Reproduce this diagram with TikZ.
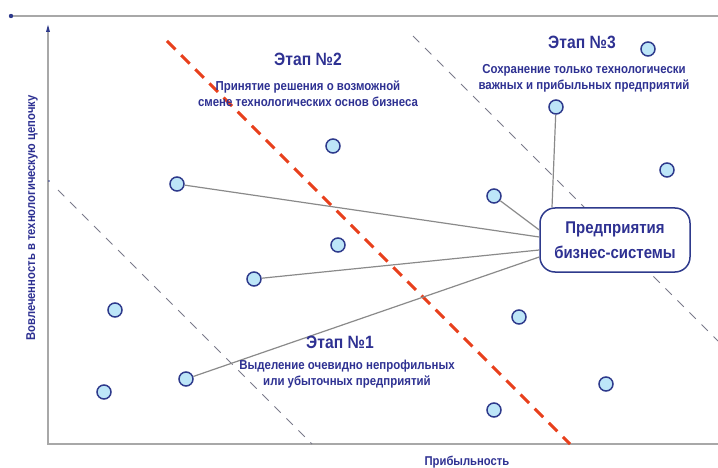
\documentclass[tikz,border=0pt]{standalone}
\usepackage{fontspec}
\setmainfont{Liberation Sans}
\newfontfamily\condf{Liberation Sans}[FakeStretch=0.88]
\usetikzlibrary{calc}
\definecolor{txtblue}{HTML}{2E3192}
\definecolor{cfill}{HTML}{BDE6F8}
\definecolor{cdraw}{HTML}{2E3A8C}
\definecolor{redd}{HTML}{E8401C}
\definecolor{axgray}{HTML}{A8A8A8}
\definecolor{lgray}{HTML}{8A8A8A}
\definecolor{dgray}{HTML}{7A7A8A}
\begin{document}
\begin{tikzpicture}[x=1pt,y=-1pt,
  firm/.style={circle,draw=cdraw,fill=cfill,line width=1.5pt,minimum size=14pt,inner sep=0pt},
  link/.style={draw=lgray,line width=1.2pt},
  divider/.style={draw=dgray,line width=1pt,dash pattern=on 9pt off 8pt},
  reddiv/.style={draw=redd,line width=3pt,dash pattern=on 12pt off 8pt},
  axis/.style={draw=axgray,line width=2pt},
  stagetitle/.style={text=txtblue,font=\condf\bfseries\fontsize{17.8}{20}\selectfont,inner sep=0pt},
  stagesub/.style={text=txtblue,font=\condf\bfseries\fontsize{13}{16}\selectfont,align=center,inner sep=0pt},
  axlabel/.style={text=txtblue,font=\condf\bfseries\fontsize{12.8}{14}\selectfont,inner sep=0pt},
  hub/.style={draw=cdraw,fill=white,line width=1.5pt,rounded corners=15pt,minimum width=150pt,minimum height=64pt,align=center,text=txtblue,font=\condf\bfseries\fontsize{17}{25}\selectfont}
]
\useasboundingbox (0,0) rectangle (718,468);

% top line
\coordinate (tl) at (11,16);
\coordinate (tr) at (718,16);
\draw[draw=axgray,line width=1.5pt] (tl) -- (tr);
\fill[cdraw] (tl) circle (2.2pt);

% axes
\coordinate (o) at (48,444);
\coordinate (ytop) at (48,27);
\coordinate (xend) at (718,444);
\draw[axis] (ytop) -- (o) -- (xend);
\fill[cdraw] (46,32) -- (48,25) -- (50,32) -- cycle;
\fill[cdraw] (49,181) circle (0.8pt);

% dividers
\coordinate (d1a) at (58,190);
\coordinate (d1b) at (312,444);
\draw[divider] (d1a) -- (d1b);
\coordinate (d2a) at (413,36);
\coordinate (d2b) at (718,341);
\draw[divider] (d2a) -- (d2b);
\coordinate (ra) at (167,41);
\coordinate (rb) at (570,444);
\draw[reddiv] (ra) -- (rb);

% hub
\node[hub] (box) at (615,240) {Предприятия\\бизнес-системы};

% firms
\node[firm] (f1) at (177,184) {};
\node[firm] (f2) at (333,146) {};
\node[firm] (f3) at (648,49) {};
\node[firm] (f4) at (556,107) {};
\node[firm] (f5) at (494,196) {};
\node[firm] (f6) at (667,170) {};
\node[firm] (f7) at (338,245) {};
\node[firm] (f8) at (254,279) {};
\node[firm] (f9) at (115,310) {};
\node[firm] (f10) at (104,392) {};
\node[firm] (f11) at (186,379) {};
\node[firm] (f12) at (519,317) {};
\node[firm] (f13) at (606,384) {};
\node[firm] (f14) at (494,410) {};

% links
\draw[link] (f1) -- ([yshift=3pt]box.west);
\draw[link] (f8) -- ([yshift=-10pt]box.west);
\draw[link] (f11) -- ([yshift=-17pt]box.west);
\draw[link] (f5) -- ([yshift=10pt]box.west);
\draw[link] (f4) -- ([xshift=-63pt]box.north);

% stage labels
\node[stagetitle] (s2) at (308,59) {Этап №2};
\node[stagesub] (s2t) at (308,94) {Принятие решения о возможной\\смене технологических основ бизнеса};
\node[stagetitle] (s3) at (582,42) {Этап №3};
\node[stagesub] (s3t) at (584,78) {Сохранение только технологически\\важных и прибыльных предприятий};
\node[stagetitle] (s1) at (340,342) {Этап №1};
\node[stagesub] (s1t) at (347,374) {Выделение очевидно непрофильных\\или убыточных предприятий};

% axis labels
\node[axlabel] (xl) at (467,462) {Прибыльность};
\node[axlabel,rotate=90] (yl) at (32,218) {Вовлеченность в технологическую цепочку};
\end{tikzpicture}
\end{document}
